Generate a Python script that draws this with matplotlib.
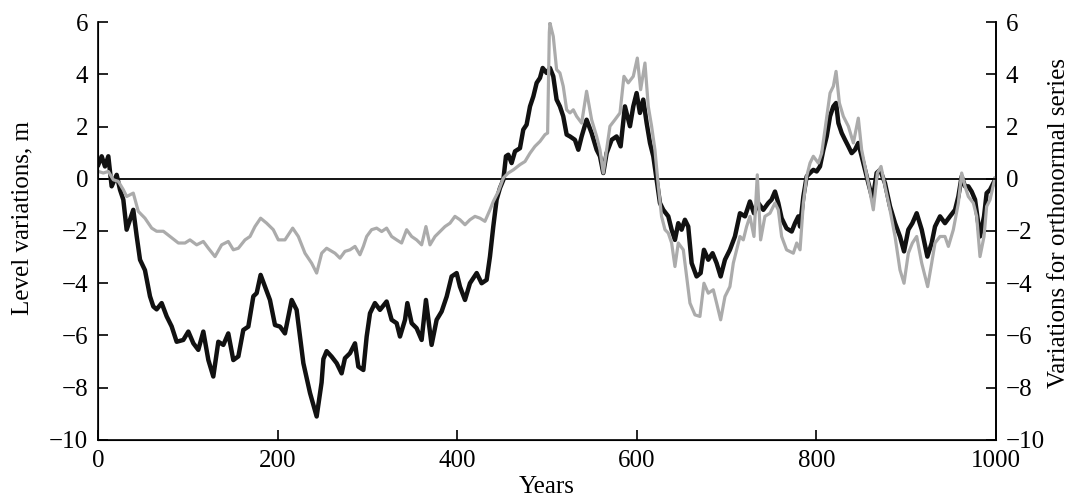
import numpy as np
import matplotlib
matplotlib.use('Agg')
import matplotlib.pyplot as plt

plt.rcParams['font.family'] = ['Liberation Serif', 'DejaVu Serif']
plt.rcParams['axes.unicode_minus'] = True

# level variations (black)
years_lvl = [0.4, 4.1, 7.8, 11.5, 15.2, 20.8, 24.5, 28.2, 31.9, 35.6, 39.3, 43.1, 46.8, 52.3,
             57.9, 61.6, 65.3, 70.9, 76.5, 82.0, 87.6, 95.0, 100.6, 106.2, 111.7, 117.3, 122.9,
             128.4, 134.0, 139.6, 145.1, 150.7, 156.3, 161.8, 167.4, 173.0, 176.7, 181.1, 186.0,
             191.5, 197.1, 202.7, 208.2, 215.7, 221.2, 228.7, 236.1, 243.5, 249.0, 251.0, 254.6,
             260.2, 265.8, 271.3, 275.0, 280.6, 286.2, 289.9, 295.5, 299.2, 302.9, 308.4, 314.0,
             321.4, 327.0, 332.6, 336.3, 341.9, 344.5, 349.3, 354.8, 360.4, 365.2, 371.5, 377.1,
             382.7, 388.3, 393.8, 399.4, 403.1, 408.7, 414.2, 421.7, 427.2, 432.8, 436.5, 440.2,
             443.9, 447.6, 451.4, 454.3, 456.9, 460.6, 464.4, 469.9, 473.6, 477.3, 481.1, 484.8,
             488.5, 492.2, 495.2, 499.6, 503.3, 507.0, 510.7, 514.4, 518.1, 521.9, 525.6, 531.1,
             534.9, 538.6, 544.1, 549.7, 555.3, 559.0, 562.7, 566.4, 572.0, 577.5, 582.0, 586.8,
             592.4, 596.1, 599.8, 603.5, 607.2, 611.0, 614.7, 618.4, 622.1, 625.8, 629.5, 635.1,
             638.8, 642.5, 646.2, 649.9, 653.6, 657.3, 661.1, 666.6, 671.1, 674.8, 679.6, 684.4,
             688.9, 693.4, 698.2, 703.7, 709.3, 714.9, 720.5, 726.0, 730.5, 735.3, 740.9, 746.4,
             750.1, 753.9, 757.6, 761.3, 766.8, 772.5, 776.2, 779.9, 781.8, 785.5, 789.2, 792.9,
             796.6, 800.3, 804.0, 807.8, 811.5, 815.2, 818.9, 821.9, 824.5, 828.2, 831.9, 835.6,
             839.3, 843.0, 846.7, 850.4, 854.2, 857.9, 862.7, 867.1, 870.9, 876.4, 882.0, 887.6,
             893.1, 897.6, 902.4, 906.9, 911.7, 917.3, 923.6, 928.4, 932.1, 937.7, 943.2, 948.8,
             954.4, 958.1, 961.8, 965.5, 969.2, 972.9, 976.7, 982.2, 986.7, 989.6, 993.4, 998.9]
level = [0.54, 0.86, 0.47, 0.86, -0.29, 0.15, -0.42, -0.80, -1.95, -1.57, -1.19, -2.2, -3.1, -3.5,
         -4.5, -4.89, -5.0, -4.76, -5.27, -5.65, -6.24, -6.17, -5.85, -6.3, -6.55, -5.85, -6.94,
         -7.57, -6.24, -6.36, -5.92, -6.94, -6.8, -5.79, -5.66, -4.5, -4.38, -3.68, -4.13,
         -4.64, -5.6, -5.66, -5.92, -4.64, -5.02, -7.06, -8.2, -9.1, -7.8, -6.9, -6.6,
         -6.81, -7.06, -7.45, -6.87, -6.68, -6.30, -7.19, -7.32, -6.04, -5.15, -4.76, -5.02,
         -4.70, -5.40, -5.53, -6.04, -5.40, -4.76, -5.53, -5.72, -6.17, -4.64, -6.36, -5.40,
         -5.08, -4.51, -3.74, -3.61, -4.13, -4.64, -4.0, -3.61, -4.0, -3.87, -2.98, -1.83,
         -0.80, -0.36, -0.04, 0.86, 0.92, 0.60, 1.05, 1.17, 1.88, 2.07, 2.77, 3.15,
         3.67, 3.86, 4.24, 4.05, 4.24, 3.92, 3.03, 2.77, 2.39, 1.69, 1.62, 1.49,
         1.11, 1.62, 2.26, 1.75, 1.11, 0.86, 0.22, 0.98, 1.49, 1.62, 1.24, 2.77,
         2.01, 2.77, 3.28, 2.52, 3.03, 2.13, 1.37, 0.86, -0.04, -0.93, -1.19, -1.44,
         -1.95, -2.34, -1.70, -1.95, -1.57, -1.83, -3.23, -3.74, -3.61, -2.72, -3.10, -2.85,
         -3.23, -3.74, -3.10, -2.72, -2.21, -1.32, -1.44, -0.87, -1.32, -0.93, -1.19, -0.93,
         -0.80, -0.49, -0.93, -1.51, -1.9, -2.02, -1.70, -1.44, -1.83, -0.68, 0.09, 0.22,
         0.34, 0.28, 0.47, 1.11, 1.62, 2.39, 2.77, 2.90, 2.13, 1.75, 1.49, 1.24,
         0.98, 1.11, 1.37, 0.86, 0.34, -0.17, -0.80, 0.22, 0.34, -0.17, -1.06, -1.70,
         -2.21, -2.78, -1.95, -1.70, -1.32, -1.95, -2.98, -2.46, -1.83, -1.44, -1.70, -1.44,
         -1.19, -0.68, 0.09, -0.29, -0.29, -0.49, -0.80, -2.21, -1.44, -0.55, -0.42, -0.04]

# orthonormal series variations (grey)
years_orth = [0.4, 5.9, 11.5, 17.1, 22.6, 28.2, 31.9, 39.3, 44.9, 52.3, 59.8, 65.3, 72.8, 80.2,
              89.5, 96.9, 102.4, 109.9, 117.3, 122.9, 130.3, 137.7, 145.1, 150.7, 156.3, 163.7,
              169.3, 174.8, 181.1, 187.8, 195.2, 200.8, 208.2, 216.8, 223.1, 230.5, 237.9, 243.5,
              249.1, 254.6, 263.9, 269.5, 275.0, 280.6, 286.2, 291.7, 295.5, 299.2, 304.7, 310.3,
              315.9, 321.4, 327.0, 332.6, 338.1, 343.7, 349.3, 354.8, 360.4, 365.2, 369.7, 375.3,
              380.8, 386.4, 392.0, 397.5, 403.1, 408.7, 414.2, 419.8, 425.4, 430.9, 436.5, 440.2,
              445.8, 451.4, 456.9, 462.5, 469.9, 475.5, 481.1, 486.6, 492.2, 497.8, 500.7, 502.6,
              503.3, 507.0, 510.7, 514.4, 518.1, 521.9, 525.6, 529.3, 533.0, 538.6, 544.1, 549.7,
              555.3, 559.0, 562.7, 566.4, 570.1, 575.7, 581.3, 585.7, 590.5, 596.1, 600.6, 604.3,
              609.1, 612.8, 616.5, 620.2, 624.0, 627.6, 631.4, 635.1, 638.8, 642.5, 646.2, 651.8,
              655.5, 659.2, 664.8, 670.3, 674.8, 679.6, 685.2, 688.9, 693.4, 698.2, 703.7, 707.5,
              711.2, 714.9, 718.6, 722.3, 726.0, 730.5, 734.2, 737.9, 742.7, 748.3, 753.9, 757.6,
              761.3, 766.8, 774.3, 778.1, 781.8, 785.5, 789.2, 792.9, 796.6, 802.2, 805.9, 809.6,
              815.2, 818.9, 821.9, 825.6, 830.0, 835.6, 841.2, 846.7, 850.4, 854.2, 857.9, 863.4,
              867.9, 872.0, 876.4, 882.0, 887.6, 893.1, 897.6, 902.4, 906.9, 911.7, 917.3, 923.9,
              928.4, 932.1, 937.7, 943.2, 947.0, 952.5, 958.1, 961.8, 965.5, 969.2, 974.8, 978.5,
              982.2, 986.7, 989.6, 993.4, 998.9]
orth = [0.28, 0.22, 0.28, -0.04, -0.10, -0.42, -0.68, -0.55, -1.25, -1.51, -1.89, -2.01, -2.01, -2.21,
        -2.46, -2.46, -2.34, -2.53, -2.40, -2.66, -2.98, -2.53, -2.40, -2.72, -2.66, -2.34,
        -2.21, -1.83, -1.51, -1.70, -1.95, -2.34, -2.34, -1.89, -2.21, -2.85, -3.23, -3.61,
        -2.85, -2.66, -2.85, -3.04, -2.78, -2.72, -2.59, -2.91, -2.59, -2.21, -1.95, -1.89,
        -2.02, -1.89, -2.21, -2.34, -2.46, -1.95, -2.21, -2.34, -2.53, -1.83, -2.53, -2.21,
        -2.02, -1.83, -1.70, -1.44, -1.57, -1.76, -1.57, -1.44, -1.51, -1.63, -1.19, -0.87,
        -0.49, 0.03, 0.22, 0.34, 0.54, 0.66, 0.98, 1.24, 1.43, 1.69, 1.75, 5.6,
        5.96, 5.45, 4.18, 4.05, 3.54, 2.64, 2.52, 2.64, 2.39, 2.13, 3.35, 2.26,
        1.62, 1.11, 0.22, 1.11, 2.01, 2.26, 2.52, 3.92, 3.67, 3.92, 4.62, 3.41,
        4.43, 2.77, 2.01, 1.11, -0.29, -1.44, -1.95, -2.08, -2.46, -3.36, -2.46, -2.72,
        -3.74, -4.76, -5.21, -5.27, -4.0, -4.38, -4.25, -4.76, -5.40, -4.51, -4.13, -3.23,
        -2.72, -2.21, -2.34, -1.83, -1.44, -2.21, 0.15, -2.34, -1.44, -1.32, -0.93, -1.19,
        -2.21, -2.72, -2.85, -2.46, -2.72, -0.93, 0.09, 0.60, 0.86, 0.60, 0.98, 1.88,
        3.28, 3.54, 4.11, 2.90, 2.39, 2.01, 1.37, 2.32, 1.11, 0.47, -0.17, -1.19,
        0.22, 0.47, -0.29, -1.19, -2.21, -3.49, -4.0, -2.85, -2.46, -2.21, -3.23, -4.13,
        -3.23, -2.46, -2.21, -2.21, -2.59, -1.95, -0.93, 0.22, -0.29, -0.68, -0.93, -1.44,
        -2.98, -2.21, -1.06, -0.80, 0.03]

yticks = [-10, -8, -6, -4, -2, 0, 2, 4, 6]
xticks = [0, 200, 400, 600, 800, 1000]

fig = plt.figure(figsize=(10.84, 4.98), dpi=100)
ax = fig.add_axes([0.0904, 0.1165, 0.8284, 0.8393])

ax.axhline(0, color='black', lw=1.3, zorder=1)
ax.plot(years_lvl, level, color='#111111', lw=3.2, zorder=2, solid_joinstyle='round')
ax.plot(years_orth, orth, color='#ababab', lw=2.3, zorder=3, solid_joinstyle='round')

ax.set_xlim(0, 1000)
ax.set_ylim(-10, 6)
ax.set_xticks(xticks)
ax.set_yticks(yticks)
ax.spines['top'].set_visible(False)
for s in ax.spines.values():
    s.set_linewidth(1.2)
ax.tick_params(direction='in', length=7, width=1.2, labelsize=18, pad=7)
ax.set_xlabel('Years', fontsize=18, labelpad=3)
ax.set_ylabel('Level variations, m', fontsize=18)
ax.yaxis.set_label_coords(-0.072, 0.53)

ax2 = ax.twinx()
ax2.set_ylim(-10, 6)
ax2.set_yticks(yticks)
ax2.spines['top'].set_visible(False)
ax2.spines['right'].set_linewidth(1.2)
ax2.tick_params(direction='in', length=7, width=1.2, labelsize=18, pad=7)
ax2.set_ylabel('Variations for orthonormal series', fontsize=18)
ax2.yaxis.set_label_coords(1.058, 0.52)

fig.savefig('out.png', dpi=100)
